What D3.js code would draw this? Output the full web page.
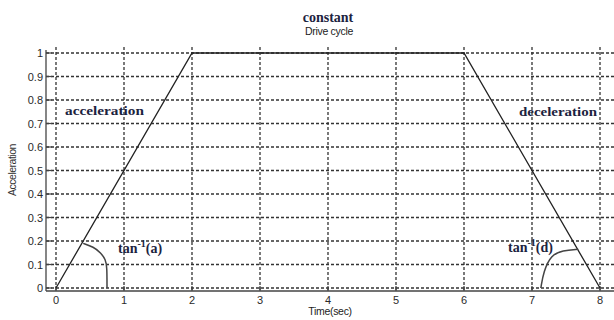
<!DOCTYPE html>
<html><head><meta charset="utf-8">
<script src="https://cdn.jsdelivr.net/npm/d3@7"></script>
<style>body{margin:0;background:#fff}svg{display:block}</style>
</head><body>
<script>
// data
const timeVals = [0, 2, 6, 8];
const accelVals = [0, 1, 1, 0];
const xTicks = [0, 1, 2, 3, 4, 5, 6, 7, 8];
const yTicks = [0, 0.1, 0.2, 0.3, 0.4, 0.5, 0.6, 0.7, 0.8, 0.9, 1];
const arcAx = [0.40, 0.55, 0.66, 0.73, 0.75, 0.75];
const arcAy = [0.19, 0.175, 0.15, 0.12, 0.09, 0];
const arcDx = [7.13, 7.17, 7.28, 7.45, 7.68];
const arcDy = [0, 0.07, 0.14, 0.16, 0.165];

const W = 614, H = 320;
const svg = d3.select("body").append("svg").attr("width", W).attr("height", H);
const x = d3.scaleLinear().domain([0, 8]).range([56, 600]);
const y = d3.scaleLinear().domain([0, 1]).range([288, 53]);
const axisLeftX = 46, axisBottomY = 291, gridTop = 47, gridRight = 614;

// grid
const g = svg.append("g");
g.selectAll(".hg").data(yTicks).join("line")
  .attr("x1", axisLeftX).attr("x2", gridRight)
  .attr("y1", d => y(d)).attr("y2", d => y(d))
  .attr("stroke", "#333").attr("stroke-width", 1.3).attr("stroke-dasharray", "3,2");
g.selectAll(".vg").data(xTicks).join("line")
  .attr("x1", d => x(d)).attr("x2", d => x(d))
  .attr("y1", gridTop).attr("y2", axisBottomY)
  .attr("stroke", "#333").attr("stroke-width", 1.3).attr("stroke-dasharray", "3,2");

// axes lines
svg.append("line").attr("x1", axisLeftX).attr("x2", axisLeftX).attr("y1", 50).attr("y2", axisBottomY)
  .attr("stroke", "#444").attr("stroke-width", 1.3);
svg.append("line").attr("x1", axisLeftX).attr("x2", gridRight).attr("y1", axisBottomY).attr("y2", axisBottomY)
  .attr("stroke", "#444").attr("stroke-width", 1.5);
// y ticks
svg.selectAll(".yt").data(yTicks).join("line")
  .attr("x1", axisLeftX).attr("x2", axisLeftX + 6)
  .attr("y1", d => y(d)).attr("y2", d => y(d))
  .attr("stroke", "#444").attr("stroke-width", 1.2);
svg.selectAll(".ytl").data(yTicks).join("text")
  .attr("x", 43).attr("y", d => y(d) + 4)
  .attr("text-anchor", "end")
  .attr("font-family", "Liberation Sans, Arial, sans-serif").attr("font-size", 11)
  .attr("fill", "#2a2a2a").text(d => d3.format("")(d));
// x ticks
svg.selectAll(".xt").data(xTicks).join("line")
  .attr("x1", d => x(d)).attr("x2", d => x(d))
  .attr("y1", axisBottomY).attr("y2", axisBottomY - 5)
  .attr("stroke", "#444").attr("stroke-width", 1.2);
svg.selectAll(".xtl").data(xTicks).join("text")
  .attr("x", d => x(d)).attr("y", 304)
  .attr("text-anchor", "middle")
  .attr("font-family", "Liberation Sans, Arial, sans-serif").attr("font-size", 11)
  .attr("fill", "#2a2a2a").text(d => d);

// data line
const line = d3.line().x(d => x(d[0])).y(d => y(d[1]));
svg.append("path").datum(timeVals.map((t, i) => [t, accelVals[i]]))
  .attr("d", line).attr("fill", "none").attr("stroke", "#222").attr("stroke-width", 1.3);

// angle arcs
const arcLine = d3.line().x(d => x(d[0])).y(d => y(d[1])).curve(d3.curveBasis);
svg.append("path").datum(arcAx.map((v, i) => [v, arcAy[i]]))
  .attr("d", arcLine).attr("fill", "none").attr("stroke", "#444").attr("stroke-width", 1.5);
svg.append("path").datum(arcDx.map((v, i) => [v, arcDy[i]]))
  .attr("d", arcLine).attr("fill", "none").attr("stroke", "#444").attr("stroke-width", 1.5);

// texts
const serif = "Liberation Serif, Times New Roman, serif";
const navy = "#1c2340";
svg.append("text").attr("x", 328).attr("y", 22).attr("text-anchor", "middle")
  .attr("font-family", serif).attr("font-weight", "bold").attr("font-size", 14).attr("fill", navy).text("constant");
svg.append("text").attr("x", 329).attr("y", 35).attr("text-anchor", "middle")
  .attr("font-family", "Liberation Sans, Arial, sans-serif").attr("font-size", 10.5).attr("fill", "#222")
  .attr("letter-spacing", -0.3).text("Drive cycle");
svg.append("text").attr("x", 65).attr("y", 115)
  .attr("font-family", serif).attr("font-weight", "bold").attr("font-size", 13).attr("fill", navy)
  .attr("textLength", 79).attr("lengthAdjust", "spacingAndGlyphs").text("acceleration");
svg.append("text").attr("x", 519).attr("y", 116)
  .attr("font-family", serif).attr("font-weight", "bold").attr("font-size", 13).attr("fill", navy)
  .attr("textLength", 78).attr("lengthAdjust", "spacingAndGlyphs").text("deceleration");
function tanLabel(tx, ty, letter) {
  const t = svg.append("text").attr("x", tx).attr("y", ty)
    .attr("font-family", serif).attr("font-weight", "bold").attr("font-size", 14).attr("fill", navy);
  t.append("tspan").text("tan");
  t.append("tspan").attr("dy", -6).attr("font-size", 10).text("-1");
  t.append("tspan").attr("dy", 6).text("(" + letter + ")");
}
tanLabel(118, 253, "a");
tanLabel(508, 252, "d");
svg.append("text").attr("x", 330).attr("y", 315).attr("text-anchor", "middle")
  .attr("font-family", "Liberation Sans, Arial, sans-serif").attr("font-size", 10.5).attr("fill", "#222")
  .attr("letter-spacing", -0.3).text("Time(sec)");
svg.append("text").attr("transform", "translate(16,170) rotate(-90)").attr("text-anchor", "middle")
  .attr("font-family", "Liberation Sans, Arial, sans-serif").attr("font-size", 10.5).attr("fill", "#333")
  .attr("letter-spacing", -0.5).text("Acceleration");
</script>
</body></html>
